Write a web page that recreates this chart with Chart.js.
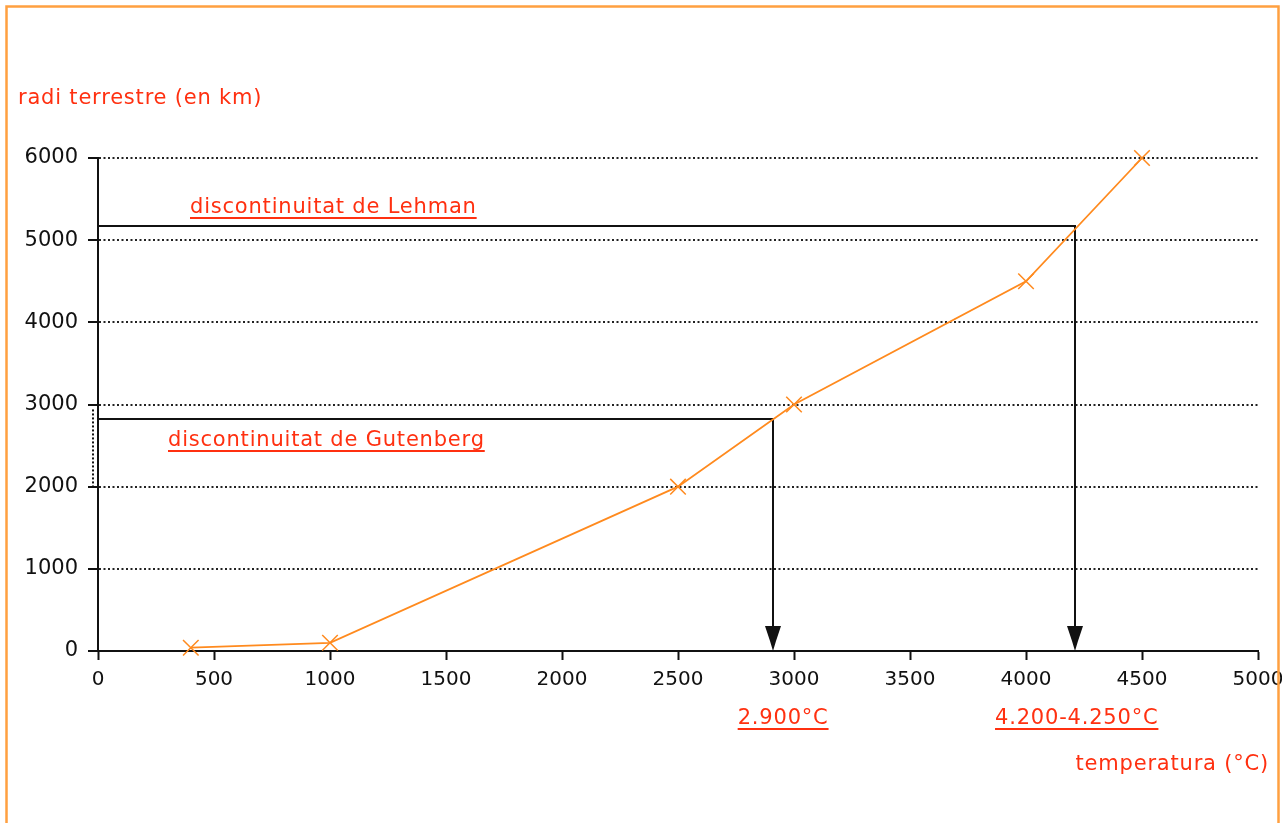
<!DOCTYPE html>
<html><head><meta charset="utf-8">
<script src="https://cdn.jsdelivr.net/npm/chart.js@4"></script>
<style>html,body{margin:0;padding:0;background:#fff;overflow:hidden}canvas{display:block}</style>
</head><body>
<canvas id="c" width="1282" height="823"></canvas>
<script>
// ---- data ----
const temperatures = [400, 1000, 2500, 3000, 4000, 4500];
const radii = [40, 100, 2000, 3000, 4500, 6000];
const xTickValues = [0, 500, 1000, 1500, 2000, 2500, 3000, 3500, 4000, 4500, 5000];
const yTickValues = [0, 1000, 2000, 3000, 4000, 5000, 6000];
const discontinuityNames = ['discontinuitat de Gutenberg', 'discontinuitat de Lehman'];
const discontinuityTemps = [2910, 4210];
const discontinuityRadii = [2820, 5170];
const discontinuityTempLabels = ['2.900°C', '4.200-4.250°C'];
const yTitle = 'radi terrestre (en km)';
const xTitle = 'temperatura (°C)';

// ---- styles ----
const RED = '#ff3010';
const ORANGE = '#ff8a1e';
const BLACK = '#111';
const FONT = '"DejaVu Sans", sans-serif';

function drawText(ctx, text, x, y, align, underline) {
  ctx.save();
  ctx.font = '21px ' + FONT;
  ctx.letterSpacing = '0.8px';
  ctx.fillStyle = RED;
  ctx.textBaseline = 'alphabetic';
  const w = ctx.measureText(text).width;
  let x0 = x;
  if (align === 'center') x0 = x - w / 2;
  else if (align === 'right') x0 = x - w;
  ctx.textAlign = 'left';
  ctx.fillText(text, x0, y);
  if (underline) {
    ctx.strokeStyle = RED;
    ctx.lineWidth = 2;
    ctx.beginPath();
    ctx.moveTo(x0, y + 5);
    ctx.lineTo(x0 + w, y + 5);
    ctx.stroke();
  }
  ctx.restore();
}

const annot = {
  id: 'annot',
  beforeDatasetsDraw(chart) {
    const { ctx, scales: { x, y } } = chart;
    ctx.save();
    const x0 = x.getPixelForValue(0);
    const yb = y.getPixelForValue(0);
    // small dotted artefact left of y axis
    ctx.strokeStyle = BLACK;
    ctx.lineWidth = 2;
    ctx.setLineDash([2, 2]);
    ctx.beginPath();
    ctx.moveTo(x0 - 5, y.getPixelForValue(2940));
    ctx.lineTo(x0 - 5, y.getPixelForValue(2000));
    ctx.stroke();
    ctx.setLineDash([]);
    ctx.lineWidth = 2;
    ctx.fillStyle = BLACK;
    discontinuityTemps.forEach((t, i) => {
      const px = Math.round(x.getPixelForValue(t));
      const py = Math.round(y.getPixelForValue(discontinuityRadii[i]));
      ctx.beginPath();
      ctx.moveTo(x0, py);
      ctx.lineTo(px, py);
      ctx.lineTo(px, yb - 18);
      ctx.stroke();
      ctx.beginPath();
      ctx.moveTo(px - 8, yb - 25);
      ctx.lineTo(px + 8, yb - 25);
      ctx.lineTo(px + 3, yb - 10);
      ctx.lineTo(px, yb);
      ctx.lineTo(px - 3, yb - 10);
      ctx.closePath();
      ctx.fill();
    });
    ctx.restore();
  },
  afterDraw(chart) {
    const { ctx, scales: { x, y } } = chart;
    ctx.save();
    ctx.strokeStyle = '#ffa040';
    ctx.lineWidth = 2.5;
    ctx.strokeRect(6.5, 6.5, 1272, 900);
    ctx.restore();
    drawText(ctx, yTitle, 18, 104, 'left', false);
    drawText(ctx, xTitle, 1269, 770, 'right', false);
    const nameOffsets = [[168, 27], [190, -13]];
    discontinuityNames.forEach((n, i) => {
      const py = Math.round(y.getPixelForValue(discontinuityRadii[i]));
      drawText(ctx, n, nameOffsets[i][0], py + nameOffsets[i][1], 'left', true);
    });
    const labelDx = [10, 2];
    discontinuityTempLabels.forEach((l, i) => {
      const px = x.getPixelForValue(discontinuityTemps[i]);
      drawText(ctx, l, px + labelDx[i], 724, 'center', true);
    });
  }
};

new Chart(document.getElementById('c'), {
  type: 'line',
  data: {
    datasets: [{
      data: temperatures.map((t, i) => ({ x: t, y: radii[i] })),
      borderColor: ORANGE,
      backgroundColor: ORANGE,
      borderWidth: 1.8,
      tension: 0,
      clip: false,
      pointStyle: 'crossRot',
      pointRadius: 11,
      pointBorderWidth: 1.5,
      pointBorderColor: ORANGE,
      fill: false
    }]
  },
  options: {
    responsive: false,
    animation: false,
    devicePixelRatio: 1,
    layout: { padding: { top: 158, left: 0, right: 24, bottom: 0 } },
    plugins: { legend: { display: false }, tooltip: { enabled: false }, title: { display: false } },
    scales: {
      x: {
        type: 'linear', min: 0, max: 5000,
        afterBuildTicks: s => { s.ticks = xTickValues.map(v => ({ value: v })); },
        afterFit: s => { s.height = 172; s.paddingLeft = 0; s.paddingRight = 0; },
        grid: { drawOnChartArea: false, drawTicks: true, tickLength: 9, tickWidth: 2, color: BLACK },
        border: { display: true, color: BLACK, width: 2 },
        ticks: { color: BLACK, font: { family: FONT, size: 20 }, padding: 8, maxRotation: 0, autoSkip: false, callback: v => String(v) }
      },
      y: {
        type: 'linear', min: 0, max: 6000,
        afterBuildTicks: s => { s.ticks = yTickValues.map(v => ({ value: v })); },
        afterFit: s => { s.width = 98; s.paddingTop = 0; s.paddingBottom = 0; },
        grid: { drawOnChartArea: true, drawTicks: true, tickLength: 10, tickWidth: 2, tickColor: BLACK, color: '#222', lineWidth: 2 },
        border: { display: true, color: BLACK, width: 2, dash: [2, 2.5] },
        ticks: { color: BLACK, font: { family: FONT, size: 21 }, padding: 10, autoSkip: false, callback: v => String(v) }
      }
    }
  },
  plugins: [annot]
});
</script>
</body></html>
